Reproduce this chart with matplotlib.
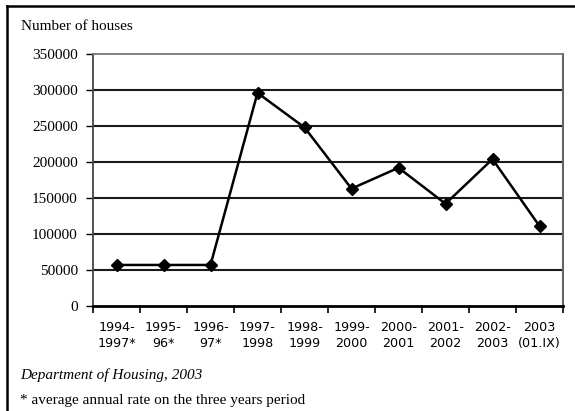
import numpy as np
import matplotlib
matplotlib.use("Agg")
import matplotlib.pyplot as plt
from matplotlib.lines import Line2D

periods = ["1994-\n1997*", "1995-\n96*", "1996-\n97*", "1997-\n1998", "1998-\n1999",
           "1999-\n2000", "2000-\n2001", "2001-\n2002", "2002-\n2003", "2003\n(01.IX)"]
houses = [57000, 57000, 57000, 296000, 248000, 163000, 192000, 142000, 204000, 111000]
yticks = [0, 50000, 100000, 150000, 200000, 250000, 300000, 350000]

serif = "Liberation Serif"

fig = plt.figure(figsize=(5.75, 4.11), dpi=100)
ax = fig.add_axes([93/575, 105/411, 470/575, 252/411])

x = np.arange(len(periods))
ax.plot(x, houses, color="black", lw=1.8, marker="D", ms=6, zorder=3)

ax.set_xlim(-0.5, len(periods) - 0.5)
ax.set_ylim(0, 350000)
ax.set_yticks(yticks)
ax.set_yticklabels([str(v) for v in yticks], fontfamily=serif, fontsize=11)
for v in yticks[1:-1]:
    ax.axhline(v, color="#1a1a1a", lw=1.5, zorder=1)

# category ticks sit between categories, labels at centres
ax.set_xticks(np.arange(len(periods) + 1) - 0.5)
ax.set_xticklabels([])
ax.set_xticks(x, minor=True)
ax.set_xticklabels(periods, minor=True, fontfamily="DejaVu Sans", fontsize=9.2,
                   linespacing=1.25)
ax.tick_params(axis="x", which="minor", length=0, pad=11)
ax.tick_params(axis="x", which="major", length=5, width=1.2, direction="out")
ax.tick_params(axis="y", length=5, width=1, pad=6)

ax.spines["bottom"].set_linewidth(2)
ax.spines["bottom"].set_color("black")
ax.spines["left"].set_color("#444444")
ax.spines["left"].set_linewidth(1.3)
ax.spines["top"].set_color("#777777")
ax.spines["top"].set_linewidth(1.3)
ax.spines["right"].set_color("#666666")
ax.spines["right"].set_linewidth(1.5)

fig.text(21/575, 1 - 26/411, "Number of houses", fontfamily=serif, fontsize=11,
         va="center", ha="left")
fig.text(20/575, 1 - 375/411, "Department of Housing, 2003", fontfamily=serif,
         fontstyle="italic", fontsize=11, va="center", ha="left")
fig.text(20/575, 1 - 400/411, "* average annual rate on the three years period",
         fontfamily=serif, fontsize=11, va="center", ha="left")

# outer frame (top and left only)
fig.add_artist(Line2D([7/575, 1], [1 - 6/411, 1 - 6/411], color="black", lw=1.8))
fig.add_artist(Line2D([7/575, 7/575], [0, 1 - 6/411], color="black", lw=1.8))

fig.savefig("out.png", dpi=100)
